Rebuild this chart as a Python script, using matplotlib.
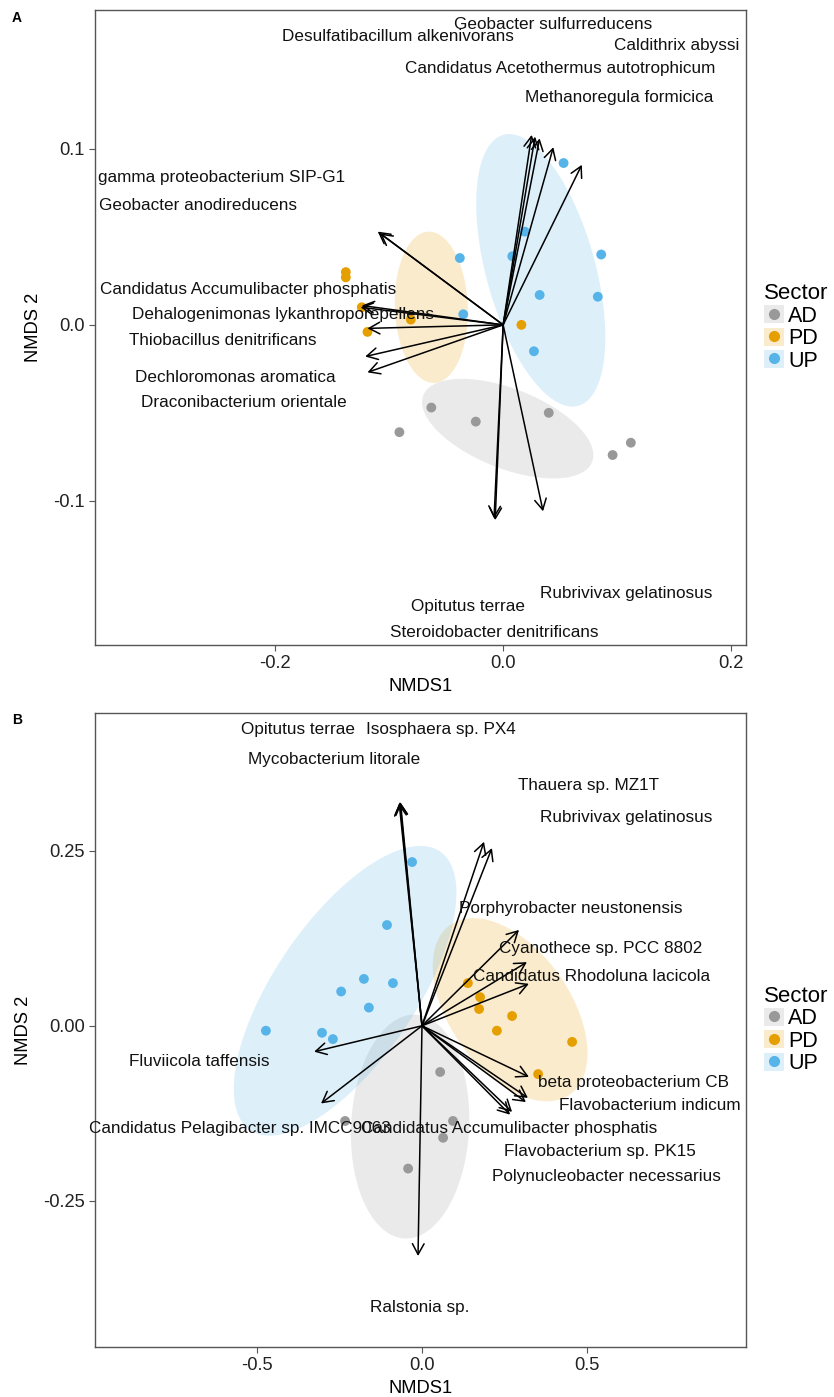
import numpy as np
import matplotlib
matplotlib.use("Agg")
import matplotlib.pyplot as plt
from matplotlib.patches import Patch
from matplotlib.lines import Line2D
from matplotlib.legend_handler import HandlerTuple

plt.rcParams['font.family'] = ['Liberation Sans', 'DejaVu Sans']

sectors = ['AD', 'PD', 'UP']
sector_colors = {'AD': '#999999', 'PD': '#E69F00', 'UP': '#56B4E9'}

# ---- panel A : sample scores ----
a_up_x = [0.019, -0.038, 0.008, 0.086, 0.032, 0.083, -0.035, 0.027, 0.053]
a_up_y = [0.053, 0.038, 0.039, 0.040, 0.017, 0.016, 0.006, -0.015, 0.092]
a_pd_x = [-0.138, -0.138, -0.124, -0.081, -0.119, 0.016]
a_pd_y = [0.030, 0.027, 0.010, 0.003, -0.004, 0.000]
a_ad_x = [-0.063, -0.024, -0.091, 0.040, 0.096, 0.112]
a_ad_y = [-0.047, -0.055, -0.061, -0.050, -0.074, -0.067]

# ellipses: centre, semi-axis 1, semi-axis 2 (conjugate vectors, data units)
a_ell_center = {'AD': (0.004, -0.059), 'PD': (-0.063, 0.010), 'UP': (0.033, 0.031)}
a_ell_ax1 = {'AD': (0.074, -0.019), 'PD': (-0.002, 0.043), 'UP': (-0.033, 0.077)}
a_ell_ax2 = {'AD': (-0.013, -0.021), 'PD': (0.032, 0.0), 'UP': (0.046, 0.0085)}

# species vectors (envfit arrows)
a_arrow_x = [0.025, 0.028, 0.032, 0.044, 0.069, -0.110, -0.108, -0.125, -0.124,
             -0.119, -0.121, -0.119, -0.007, -0.008, 0.035]
a_arrow_y = [0.108, 0.107, 0.106, 0.101, 0.091, 0.053, 0.052, 0.010, 0.011,
             -0.002, -0.018, -0.027, -0.111, -0.110, -0.106]

a_species = ['Geobacter sulfurreducens', 'Desulfatibacillum alkenivorans', 'Caldithrix abyssi',
             'Candidatus Acetothermus autotrophicum', 'Methanoregula formicica',
             'gamma proteobacterium SIP-G1', 'Geobacter anodireducens',
             'Candidatus Accumulibacter phosphatis', 'Dehalogenimonas lykanthroporepellens',
             'Thiobacillus denitrificans', 'Dechloromonas aromatica', 'Draconibacterium orientale',
             'Rubrivivax gelatinosus', 'Opitutus terrae', 'Steroidobacter denitrificans']
a_label_x = [0.044, -0.092, 0.152, 0.050, 0.102, -0.247, -0.268, -0.224, -0.193,
             -0.246, -0.235, -0.227, 0.108, -0.031, -0.008]
a_label_y = [0.171, 0.164, 0.159, 0.146, 0.129, 0.084, 0.068, 0.020, 0.006,
             -0.009, -0.030, -0.044, -0.153, -0.160, -0.175]

# ---- panel B : sample scores ----
b_up_x = [-0.030, -0.106, -0.176, -0.088, -0.245, -0.161, -0.473, -0.303, -0.270]
b_up_y = [0.234, 0.144, 0.067, 0.061, 0.049, 0.026, -0.007, -0.010, -0.019]
b_pd_x = [0.139, 0.176, 0.173, 0.273, 0.227, 0.455, 0.352]
b_pd_y = [0.061, 0.041, 0.024, 0.014, -0.007, -0.023, -0.069]
b_ad_x = [0.055, -0.233, 0.094, 0.064, -0.042]
b_ad_y = [-0.066, -0.136, -0.136, -0.160, -0.204]

b_ell_center = {'AD': (-0.036, -0.144), 'PD': (0.267, 0.023), 'UP': (-0.233, 0.050)}
b_ell_ax1 = {'AD': (0.012, 0.160), 'PD': (0.182, -0.121), 'UP': (0.288, 0.199)}
b_ell_ax2 = {'AD': (0.179, 0.0), 'PD': (-0.148, -0.050), 'UP': (0.176, -0.057)}

b_arrow_x = [-0.067, -0.069, -0.065, 0.188, 0.212, 0.294, 0.318, 0.324, -0.327,
             -0.306, 0.324, 0.321, 0.273, 0.315, 0.267, -0.012]
b_arrow_y = [0.320, 0.318, 0.319, 0.263, 0.254, 0.137, 0.091, 0.060, -0.037,
             -0.111, -0.073, -0.103, -0.123, -0.109, -0.127, -0.329]

b_species = ['Opitutus terrae', 'Isosphaera sp. PX4', 'Mycobacterium litorale',
             'Thauera sp. MZ1T', 'Rubrivivax gelatinosus', 'Porphyrobacter neustonensis',
             'Cyanothece sp. PCC 8802', 'Candidatus Rhodoluna lacicola', 'Fluviicola taffensis',
             'Candidatus Pelagibacter sp. IMCC9063', 'beta proteobacterium CB',
             'Flavobacterium indicum', 'Candidatus Accumulibacter phosphatis',
             'Flavobacterium sp. PK15', 'Polynucleobacter necessarius', 'Ralstonia sp.']
b_label_x = [-0.376, 0.058, -0.267, 0.506, 0.618, 0.452, 0.542, 0.515, -0.676,
             -0.552, 0.642, 0.691, 0.264, 0.539, 0.558, -0.006]
b_label_y = [0.423, 0.423, 0.380, 0.344, 0.297, 0.167, 0.110, 0.070, -0.051,
             -0.147, -0.081, -0.114, -0.147, -0.180, -0.216, -0.403]


def draw_panel(ax, pts, ell, arrows, labels, xlim, ylim, xticks, yticks, yticklabels):
    t = np.linspace(0, 2 * np.pi, 200)
    centers, ax1, ax2 = ell
    for s in sectors:
        cx, cy = centers[s]
        ex = cx + ax1[s][0] * np.cos(t) + ax2[s][0] * np.sin(t)
        ey = cy + ax1[s][1] * np.cos(t) + ax2[s][1] * np.sin(t)
        ax.fill(ex, ey, color=sector_colors[s], alpha=0.2, lw=0, zorder=1)

    for s in sectors:
        x, y = pts[s]
        ax.scatter(x, y, s=50, color=sector_colors[s], edgecolors='none', zorder=2)

    for x, y in zip(*arrows):
        ax.annotate('', xy=(x, y), xytext=(0, 0),
                    arrowprops=dict(arrowstyle='->,head_length=0.55,head_width=0.3',
                                    lw=1.1, color='black', shrinkA=0, shrinkB=0,
                                    mutation_scale=14),
                    zorder=3)

    for name, x, y in zip(*labels):
        ax.text(x, y, name, ha='center', va='center', fontsize=12.3, color='#111111', zorder=4)

    ax.set_xlim(*xlim)
    ax.set_ylim(*ylim)
    ax.set_xticks(xticks)
    ax.set_yticks(yticks)
    ax.set_yticklabels(yticklabels)
    ax.set_xlabel('NMDS1', fontsize=13.2, labelpad=4)
    ax.set_ylabel('NMDS 2', fontsize=13.2, labelpad=8)
    ax.tick_params(labelsize=13.2, length=4, width=0.8, color='#555555', labelcolor='#222222')
    for sp in ax.spines.values():
        sp.set_color('#555555')
        sp.set_linewidth(1.0)

    # legend key = ellipse fill square with the point on top
    handles = [(Patch(facecolor=sector_colors[s], alpha=0.2, edgecolor='none'),
                Line2D([], [], marker='o', color=sector_colors[s], linestyle='none', markersize=7))
               for s in sectors]
    ax.legend(handles, sectors, handler_map={tuple: HandlerTuple(ndivide=1)},
              title='Sector', loc='center left', bbox_to_anchor=(1.015, 0.5),
              frameon=False, fontsize=15.5, title_fontsize=16, handlelength=0.9,
              handleheight=0.9, handletextpad=0.2, labelspacing=0.05,
              borderaxespad=0, alignment='left')


fig = plt.figure(figsize=(8.34, 13.97), dpi=100)
W, H = 834, 1397
ax_a = fig.add_axes([95 / W, 1 - 645 / H, 651 / W, 635 / H])
ax_b = fig.add_axes([95 / W, 1 - 1347 / H, 651 / W, 634 / H])

draw_panel(ax_a,
           {'AD': (a_ad_x, a_ad_y), 'PD': (a_pd_x, a_pd_y), 'UP': (a_up_x, a_up_y)},
           (a_ell_center, a_ell_ax1, a_ell_ax2),
           (a_arrow_x, a_arrow_y),
           (a_species, a_label_x, a_label_y),
           (-0.358, 0.213), (-0.182, 0.179),
           [-0.2, 0.0, 0.2], [-0.1, 0.0, 0.1], ['-0.1', '0.0', '0.1'])

draw_panel(ax_b,
           {'AD': (b_ad_x, b_ad_y), 'PD': (b_pd_x, b_pd_y), 'UP': (b_up_x, b_up_y)},
           (b_ell_center, b_ell_ax1, b_ell_ax2),
           (b_arrow_x, b_arrow_y),
           (b_species, b_label_x, b_label_y),
           (-0.991, 0.982), (-0.459, 0.447),
           [-0.5, 0.0, 0.5], [-0.25, 0.0, 0.25], ['-0.25', '0.00', '0.25'])
ax_a.set_xticklabels(['-0.2', '0.0', '0.2'])
ax_b.set_xticklabels(['-0.5', '0.0', '0.5'])

fig.text(12 / W, 1 - 18 / H, 'A', fontsize=10, fontweight='bold', va='center')
fig.text(12 / W, 1 - 720 / H, 'B', fontsize=10, fontweight='bold', va='center')

fig.savefig('out.png', dpi=100)
